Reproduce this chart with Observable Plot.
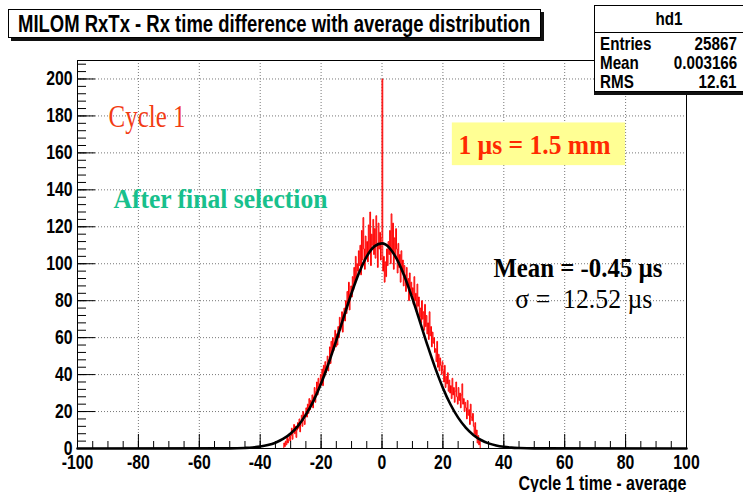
<!DOCTYPE html>
<html><head><meta charset="utf-8">
<script src="https://cdn.jsdelivr.net/npm/d3@7"></script>
<script src="https://cdn.jsdelivr.net/npm/@observablehq/plot@0.6"></script>
<style>
body{margin:0;background:#fff;}
#wrap{position:relative;width:743px;height:492px;overflow:hidden;font-family:"Liberation Sans",Arial,sans-serif;font-weight:bold;color:#000;}
#chart{position:absolute;left:0;top:0;}
#title{position:absolute;left:8px;top:9px;width:533px;height:29px;border:1px solid #000;box-shadow:3px 3px 0 #111;background:#fff;box-sizing:border-box;font-size:24px;line-height:27px;padding-left:9px;white-space:nowrap;}
#title .nar{transform:scaleX(0.77);}
.nar{display:inline-block;transform:scaleX(0.8);transform-origin:left center;}
.narR{display:inline-block;transform:scaleX(0.8);transform-origin:right center;}
.narC{display:inline-block;transform:scaleX(0.8);transform-origin:center center;}
#stats{position:absolute;left:594px;top:5px;width:160px;height:87px;border:1px solid #000;box-shadow:0 3px 0 #111;background:#fff;box-sizing:border-box;font-size:19px;}
#stats .hd{position:absolute;left:0;width:147px;top:2px;text-align:center;line-height:21px;}
#stats .sep{position:absolute;left:0;width:100%;top:26px;border-top:1px solid #000;}
#stats .row{position:absolute;left:5px;width:137px;height:18px;line-height:18px;}
#stats .row span{line-height:18px;}
#stats .row span.v{position:absolute;right:0;top:0;}
svg text{white-space:pre;}
</style>
</head><body>
<div id="wrap">
  <div id="chart"></div>
  <div id="title"><span class="nar">MILOM RxTx - Rx time difference with average distribution</span></div>
  <div id="stats"></div>
</div>
<script>
// ---- data ----
const statsName = "hd1";
const statsLabels = ["Entries", "Mean", "RMS"];
const statsValues = ["25867", "0.003166", "12.61"];

const xTicks = [-100, -80, -60, -40, -20, 0, 20, 40, 60, 80, 100];
const yTicks = [0, 20, 40, 60, 80, 100, 120, 140, 160, 180, 200];
const xGrid = [-80, -60, -40, -20, 0, 20, 40, 60, 80];
const yGrid = [20, 40, 60, 80, 100, 120, 140, 160, 180, 200];

// histogram: counts per 0.25 bin starting at -32.5
const binStart = -32.5;
const binWidth = 0.25;
const counts = [
  0,3,1,4,2,6,3,5,8,4,
  7,11,5,9,13,8,12,6,10,14,
  11,16,9,14,18,12,20,15,13,19,
  22,17,24,19,27,21,26,23,29,22,
  28,33,25,31,36,29,38,32,35,40,
  37,43,34,45,39,47,41,44,50,42,
  48,55,46,58,51,60,53,57,64,55,
  62,56,66,60,71,64,68,74,63,72,
  76,69,80,73,85,78,90,75,84,88,
  82,93,86,98,89,104,92,100,96,107,
  99,110,94,118,102,125,108,97,115,104,
  112,101,121,107,128,99,116,110,124,105,
  119,103,126,111,98,122,108,117,102,114,
  200,96,104,90,101,93,108,99,112,105,
  118,100,127,106,122,97,114,103,119,108,
  95,111,98,105,90,107,96,102,88,99,
  94,85,98,88,92,80,95,86,90,83,
  87,78,93,80,84,74,89,77,82,71,
  76,68,80,70,74,64,78,66,72,62,
  68,59,74,61,66,55,63,57,60,52,
  54,47,58,44,51,42,49,45,40,47,
  42,36,45,33,39,35,41,31,37,30,
  34,27,38,29,33,25,31,36,28,24,
  33,26,30,22,29,35,24,27,20,25,
  22,16,26,18,21,13,24,17,15,19,
  12,8,14,6,10,3,7,2,4,0
];

// gaussian fit curve
const fitX = [-100,-50,-45,-42.5,-40,-37.5,-35,-32.5,-30,-27.5,-25,-22.5,-20,-17.5,-15,-12.5,-10,-7.5,-5,-2.5,0,2.5,5,7.5,10,12.5,15,17.5,20,22.5,25,27.5,30,32.5,35,37.5,40,42.5,45,50,100];
const fitY = [0,0.05,0.3,0.57,1.05,1.86,3.15,5.16,8.16,12.4,18.3,25.8,35.2,46.3,58.6,71.5,84.0,95.2,104.0,109.4,111.0,108.5,102.1,92.7,81.1,68.4,55.5,43.5,32.8,23.8,16.7,11.3,7.34,4.6,2.78,1.62,0.91,0.49,0.26,0.05,0];

// annotation texts
const cycleText = "Cycle 1";
const selText = "After final selection";
const convText = "1 µs = 1.5 mm";
const meanText = "Mean = -0.45 µs";
const sigmaText = "σ =  12.52 µs";
const xTitle = "Cycle 1 time - average";

// ---- build ----
const hist = counts.map((c, i) => ({x: binStart + (i + 0.5) * binWidth, y: c}));
const fit = fitX.map((x, i) => ({x, y: fitY[i]}));
const xMinor = d3.range(-100, 100.1, 5);
const yMinor = d3.range(0, 210, 4);

const W = 743, H = 492, mT = 60, mB = 44, mL = 77, mR = 57;
const pw = W - mL - mR, ph = H - mT - mB;
const serif = "'Liberation Serif','Times New Roman',serif";

const plot = Plot.plot({
  width: W, height: H,
  marginTop: mT, marginBottom: mB, marginLeft: mL, marginRight: mR,
  x: {domain: [-100, 100]},
  y: {domain: [0, 210]},
  style: {fontFamily: "'Liberation Sans',Arial,sans-serif", fontSize: "20px", fontWeight: "bold", color: "black", background: "transparent"},
  marks: [
    Plot.ruleX(xGrid, {stroke: "#777", strokeDasharray: "1,2"}),
    Plot.ruleY(yGrid, {stroke: "#777", strokeDasharray: "1,2"}),
    Plot.rect([0], {x1: 23.1, x2: 80, y1: 153.1, y2: 176.2, fill: "#ffff94"}),
    Plot.line(hist, {x: "x", y: "y", curve: "step", stroke: "#ff0000", strokeWidth: 1}),
    Plot.line(fit, {x: "x", y: "y", curve: "monotone-x", stroke: "#000", strokeWidth: 2.6}),
    Plot.frame({stroke: "#000"}),
    Plot.tickY(yTicks, {stroke: "#000", insetRight: pw - 18}),
    Plot.tickY(yMinor, {stroke: "#000", insetRight: pw - 9}),
    Plot.tickX(xTicks, {stroke: "#000", insetTop: ph - 14}),
    Plot.tickX(xMinor, {stroke: "#000", insetTop: ph - 7}),
    Plot.axisX(xTicks, {tickSize: 0, tickPadding: 6, tickFormat: d => `${d}`, label: null}),
    Plot.axisY(yTicks, {tickSize: 0, tickPadding: 5, tickFormat: d => `${d}`, label: null}),
    Plot.text([xTitle], {frameAnchor: "bottom-right", textAnchor: "end", lineAnchor: "bottom", dy: 41, fontSize: 20, fontWeight: "bold"}),
    Plot.text([cycleText], {x: -89.8, y: 174, textAnchor: "start", lineAnchor: "bottom", fontFamily: serif, fontSize: 31, fontWeight: "normal", fill: "#f23c14"}),
    Plot.text([selText], {x: -88.2, y: 129.9, textAnchor: "start", lineAnchor: "bottom", fontFamily: serif, fontSize: 27, fontWeight: "bold", fill: "#18c08c"}),
    Plot.text([convText], {x: 25.1, y: 159.6, textAnchor: "start", lineAnchor: "bottom", fontFamily: serif, fontSize: 28, fontWeight: "bold", fill: "#ff2a00"}),
    Plot.text([meanText], {x: 36.6, y: 92.7, textAnchor: "start", lineAnchor: "bottom", fontFamily: serif, fontSize: 27, fontWeight: "bold", fill: "#000"}),
    Plot.text([sigmaText], {x: 43.8, y: 75.8, textAnchor: "start", lineAnchor: "bottom", fontFamily: serif, fontSize: 27, fontWeight: "normal", fill: "#000"})
  ]
});
document.getElementById("chart").appendChild(plot);

// fit annotation widths to the reference; condense the sans-serif texts
const labelWidths = {[cycleText]: 77, [selText]: 214, [convText]: 152, [meanText]: 169, [sigmaText]: 137, [xTitle]: 168};
plot.querySelectorAll("text").forEach(t => {
  const w = labelWidths[t.textContent];
  const len = w ? w : t.getComputedTextLength() * 0.79;
  t.setAttribute("textLength", len);
  t.setAttribute("lengthAdjust", "spacingAndGlyphs");
});

// stats box
const st = document.getElementById("stats");
st.innerHTML = `<div class="hd"><span class="narC">${statsName}</span></div><div class="sep"></div>` +
  statsLabels.map((l, i) => `<div class="row" style="top:${29 + i * 19}px"><span class="nar">${l}</span><span class="v"><span class="narR">${statsValues[i]}</span></span></div>`).join("");
</script>
</body></html>
